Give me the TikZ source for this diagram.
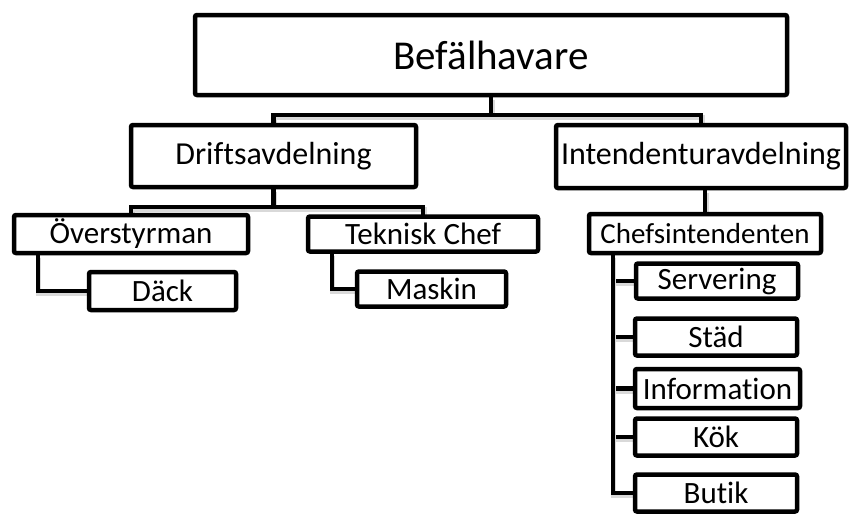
\documentclass[tikz,border=0pt]{standalone}
\usepackage{fontspec}
\setmainfont{Carlito}[Ligatures={NoCommon}]
\usetikzlibrary{positioning, backgrounds}
\tikzset{
unit/.style={
  rectangle,
  draw,
  fill=white,
  line width=4.5pt,
  rounded corners=2pt,
  inner sep=0pt,
  text centered,
 },
link/.style={draw, line width=4.5pt, line cap=rect,
  preaction={draw=black!15, line width=5pt, transform canvas={shift={(1pt,-2.5pt)}}}},
}

\begin{document}
\begin{tikzpicture}[
    x=1pt, y=-1pt,
    % Styles
    top/.style={% For the head box
        unit,
        font=\fontsize{41}{48}\selectfont,
        },
    dept/.style={% For the two departments
        unit,
        font=\fontsize{32}{38}\selectfont,
        },
    sub/.style={% For the boxes below
        unit,
        font=\fontsize{31}{36}\selectfont,
        },
    ]
    \useasboundingbox (0,0) rectangle (850,515);

    % Draw the head
    \node [top, minimum width=592, minimum height=80] (boss) at (491,55) {Befälhavare};

    % Draw departments
    \node [dept, minimum width=285, minimum height=62] (drift) at (273.5,156) {Driftsavdelning};
    \node [dept, minimum width=290, minimum height=63] (intend) at (701,156.5) {Intendenturavdelning};

    % Left side
    \node [sub, minimum width=234, minimum height=38] (over) at (131,234) {Överstyrman};
    \node [sub, minimum width=147, minimum height=38] (dack) at (162.5,291) {Däck};
    \node [sub, minimum width=230, minimum height=35] (tek) at (423,234) {Teknisk Chef};
    \node [sub, minimum width=149, minimum height=35] (maskin) at (431.5,289) {Maskin};

    % Right side
    \node [sub, font=\fontsize{29}{34}\selectfont, minimum width=232, minimum height=39] (chefs) at (705,233.5) {Chefsintendenten};
    \node [sub, minimum width=162, minimum height=35] (serv) at (717,281) {Servering};
    \node [sub, minimum width=162, minimum height=37] (stad) at (716,337) {Städ};
    \node [sub, minimum width=165, minimum height=39] (info) at (717.5,388.5) {Information};
    \node [sub, minimum width=162, minimum height=37] (kok) at (716,437) {Kök};
    \node [sub, minimum width=162, minimum height=37] (butik) at (716,493) {Butik};

    % Draw connectors
    \coordinate (bus1) at (491,115);
    \coordinate (bus2) at (273.5,207);
    \begin{scope}[on background layer]
    \draw [link] (boss.south) -- (bus1);
    \draw [link] (drift.north) |- (bus1) -| (intend.north);
    \draw [link] (drift.south) -- (bus2);
    \draw [link] (over.north) |- (bus2) -| (tek.north);
    \draw [link] ([xshift=26]over.south west) |- (dack.west);
    \draw [link] ([xshift=26]tek.south west) |- (maskin.west);
    \draw [link] (chefs.north) -- (chefs.north |- intend.south);
    \draw [link] ([xshift=26]chefs.south west) |- (serv.west);
    \draw [link] ([xshift=26]chefs.south west) |- (stad.west);
    \draw [link] ([xshift=26]chefs.south west) |- (info.west);
    \draw [link] ([xshift=26]chefs.south west) |- (kok.west);
    \draw [link] ([xshift=26]chefs.south west) |- (butik.west);
    \end{scope}
\end{tikzpicture}
\end{document}
